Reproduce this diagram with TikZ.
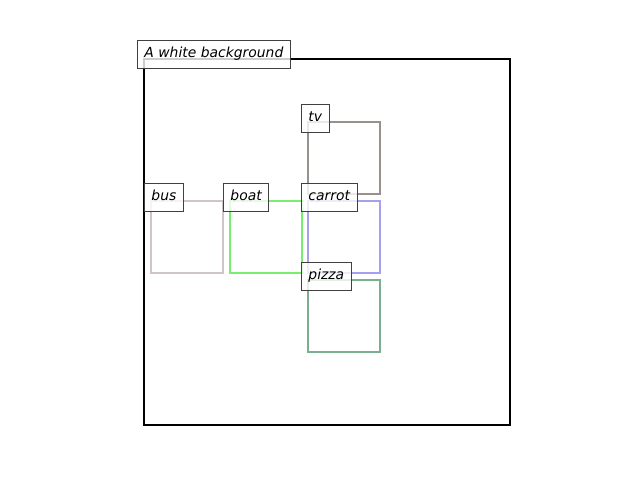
\documentclass[tikz,border=0pt]{standalone}
\usepackage{fontspec}
\setmainfont{DejaVu Sans}
\usetikzlibrary{positioning}
\definecolor{tvgray}{RGB}{150,145,140}
\definecolor{busgray}{RGB}{208,196,196}
\definecolor{boatgreen}{RGB}{120,238,110}
\definecolor{carrotblue}{RGB}{165,160,240}
\definecolor{pizzagreen}{RGB}{122,176,142}
\tikzset{
  objbox/.style={line width=2.5pt},
  tag/.style={draw=black!75, line width=0.9pt, fill=white, fill opacity=0.8, text opacity=1,
    font=\fontsize{13.9}{16}\selectfont\itshape, inner xsep=7pt, inner ysep=7pt,
    text height=10.5pt, text depth=3.5pt, anchor=west}
}
\begin{document}
\begin{tikzpicture}[x=1pt,y=-1pt]
	\useasboundingbox (0,0) rectangle (640,480);
	\fill[white] (0,0) rectangle (640,480);

	\draw [black, line width=2pt] (144,59) rectangle (510,425);

\foreach \name/\lx/\ty/\col in {tv/308/122/tvgray, bus/151/201/busgray, boat/230/201/boatgreen,
    carrot/308/201/carrotblue, pizza/308/280/pizzagreen}
    \draw [objbox, draw=\col] (\lx,\ty) rectangle ++(72,72);

\foreach \name/\lx/\ty in {tv/308/122, bus/151/201, boat/230/201, carrot/308/201, pizza/308/280}
    \node [tag] (\name) at (\lx-7,\ty-4) {\name};

	\node [tag] (bg) at (137,54) {A white background};

\end{tikzpicture}
\end{document}
